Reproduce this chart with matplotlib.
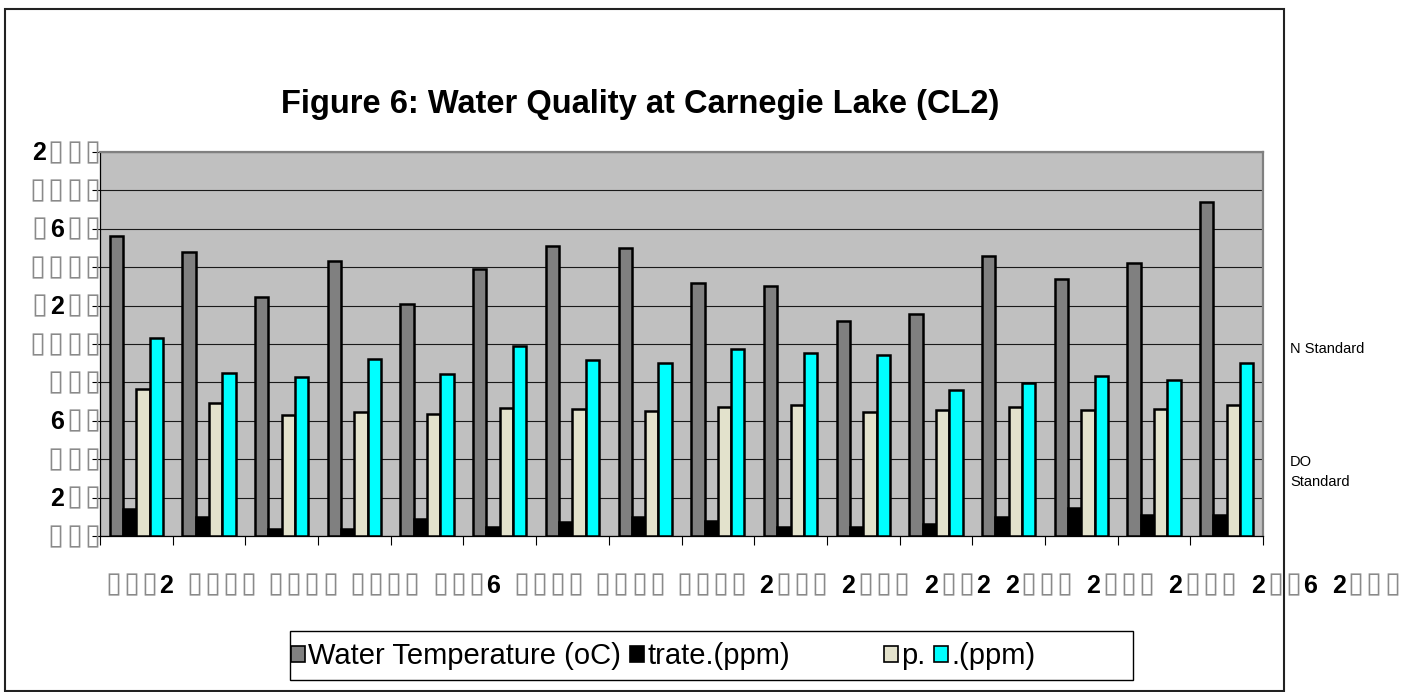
import numpy as np
import matplotlib.pyplot as plt
from matplotlib.patches import Patch, Rectangle
from matplotlib.offsetbox import TextArea, HPacker, AnnotationBbox

plt.rcParams["font.family"] = ["Liberation Sans", "DejaVu Sans"]

# categories (year digits that the source font lacked show as empty boxes)
x_labels = ["▯▯▯2", "▯▯▯▯", "▯▯▯▯", "▯▯▯▯", "▯▯▯6", "▯▯▯▯", "▯▯▯▯", "▯▯▯▯",
            "2▯▯▯", "2▯▯▯", "2▯▯2", "2▯▯▯", "2▯▯▯", "2▯▯▯", "2▯▯6", "2▯▯▯"]
y_ticks = [0, 2, 4, 6, 8, 10, 12, 14, 16, 18, 20]
y_labels = ["▯▯▯", "2▯▯", "▯▯▯", "6▯▯", "▯▯▯", "▯▯▯▯", "▯2▯▯", "▯▯▯▯", "▯6▯▯", "▯▯▯▯", "2▯▯▯"]

water_temp = [15.64, 14.77, 12.43, 14.34, 12.10, 13.92, 15.13, 15.00,
              13.18, 13.00, 11.22, 11.57, 14.60, 13.40, 14.22, 17.42]
nitrate = [1.40, 0.97, 0.36, 0.36, 0.88, 0.45, 0.74, 1.00,
           0.80, 0.45, 0.45, 0.62, 0.97, 1.45, 1.11, 1.11]
ph = [7.64, 6.94, 6.30, 6.46, 6.34, 6.67, 6.60, 6.51,
      6.72, 6.84, 6.46, 6.56, 6.72, 6.55, 6.63, 6.84]
do = [10.29, 8.50, 8.29, 9.23, 8.45, 9.89, 9.19, 9.02,
      9.75, 9.51, 9.45, 7.60, 7.95, 8.33, 8.10, 9.02]

series = [water_temp, nitrate, ph, do]
series_names = ["Water Temperature (oC)", "trate.(ppm)", "p.", ".(ppm)"]
colors = ["#808080", "#000000", "#E3E2CC", "#00FFFF"]

W, H = 1419, 692
fig = plt.figure(figsize=(W / 100, H / 100), dpi=100)
ax = fig.add_axes([100 / W, 1 - 536 / H, (1263 - 100) / W, (536 - 152) / H])
ax.set_facecolor("#C0C0C0")

ind = np.arange(len(x_labels))
bar_width = 0.183
for k, (vals, name, col) in enumerate(zip(series, series_names, colors)):
    ax.bar(ind + (k - 1.5) * bar_width, vals, width=bar_width, color=col,
           edgecolor="black", linewidth=1.8, label=name, zorder=3)

ax.set_xlim(-0.5, len(x_labels) - 0.5)
ax.set_ylim(0, 20)
ax.set_yticks(y_ticks, [""] * len(y_ticks))
ax.yaxis.grid(True, color="#1a1a1a", linewidth=0.8, zorder=0)
ax.set_axisbelow(True)
ax.tick_params(axis="y", direction="out", length=6, width=0.8)

ax.set_xticks(np.arange(len(x_labels) + 1) - 0.5, [""] * (len(x_labels) + 1))
ax.tick_params(axis="x", direction="out", length=6.5, width=0.8)


def tofu_label(s, size=18):
    # digits in bold black, missing glyphs as thin grey boxes
    parts = []
    for ch in s:
        if ch == "▯":
            parts.append(TextArea(ch, textprops=dict(fontsize=size + 3, color="#8a8a8a",
                                                     family="DejaVu Sans")))
        else:
            parts.append(TextArea(ch, textprops=dict(fontsize=size, fontweight="bold",
                                                     color="black")))
    return HPacker(children=parts, pad=0, sep=1.5, align="baseline")


for val, lab in zip(y_ticks, y_labels):
    ab = AnnotationBbox(tofu_label(lab), (0, val), xycoords=ax.get_yaxis_transform(),
                        box_alignment=(1, 0.5), frameon=False, pad=0,
                        annotation_clip=False)
    ax.add_artist(ab)

# the source chart spreads its year labels wider than the categories
for i, lab in enumerate(x_labels):
    ab = AnnotationBbox(tofu_label(lab), (0.04 + 1.125 * i, 0),
                        xycoords=ax.get_xaxis_transform(),
                        xybox=(0, -25), boxcoords="offset points",
                        box_alignment=(0.5, 1), frameon=False, pad=0,
                        annotation_clip=False)
    ax.add_artist(ab)

for s in ["top", "right"]:
    ax.spines[s].set_color("#808080")
    ax.spines[s].set_linewidth(1.6)
for s in ["left", "bottom"]:
    ax.spines[s].set_color("black")
    ax.spines[s].set_linewidth(0.9)

fig.text(640 / W, 1 - 104 / H, "Figure 6: Water Quality at Carnegie Lake (CL2)",
         ha="center", va="center", fontsize=23.5, fontweight="bold")

fig.text(1290 / W, 1 - 349 / H, "N Standard", ha="left", va="center", fontsize=10.5)
fig.text(1290 / W, 1 - 472 / H, "DO\nStandard", ha="left", va="center",
         fontsize=10.5, linespacing=1.6)

# outer chart border
fig.patches.append(Rectangle((5 / W, 1 / H), (1284 - 5) / W, (691 - 9) / H,
                             transform=fig.transFigure, fill=False,
                             edgecolor="#222222", linewidth=1.5))

# legend box and entries
fig.patches.append(Rectangle((290 / W, 1 - 680 / H), (1133 - 290) / W, (680 - 631) / H,
                             transform=fig.transFigure, fill=False,
                             edgecolor="black", linewidth=1.0))
handles = [Patch(facecolor=c, edgecolor="black", linewidth=1.2) for c in colors]
leg_kw = dict(frameon=False, fontsize=21, handlelength=0.47, handleheight=0.47,
              handletextpad=0.12, columnspacing=0.3, borderpad=0, borderaxespad=0,
              loc="center left")
fig.legend(handles[:2], series_names[:2], ncol=2,
           bbox_to_anchor=(291 / W, 1 - 656 / H), **leg_kw)
fig.legend(handles[2:], series_names[2:], ncol=2,
           bbox_to_anchor=(884 / W, 1 - 656 / H), **leg_kw)

fig.savefig("out.png", dpi=100)
